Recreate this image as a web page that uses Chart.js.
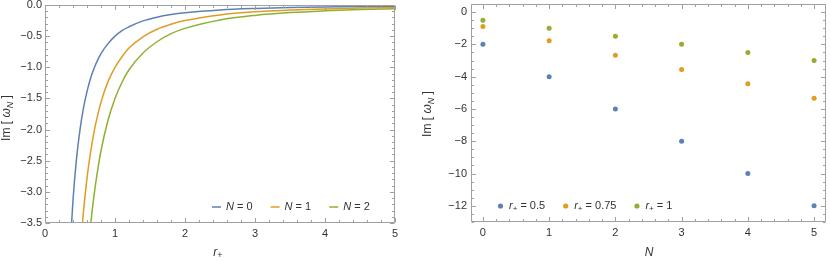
<!DOCTYPE html>
<html>
<head>
<meta charset="utf-8">
<script src="https://cdn.jsdelivr.net/npm/chart.js@4/dist/chart.umd.min.js"></script>
<style>
body { margin: 0; background: #fff; }
canvas { position: absolute; top: 0; }
</style>
</head>
<body>
<canvas id="left-chart" width="415" height="261" style="left:0"></canvas>
<canvas id="right-chart" width="415" height="261" style="left:415px"></canvas>
<script>
// left panel: Im[w_N] against r+
const rValues = [0.35, 0.4, 0.45, 0.5, 0.55, 0.6, 0.65, 0.7, 0.75, 0.8, 0.9, 1.0, 1.1, 1.2, 1.4, 1.6, 1.8, 2.0, 2.5, 3.0, 3.5, 4.0, 4.5, 5.0];
const imN0 = [-4.08, -3.13, -2.47, -2.0, -1.65, -1.39, -1.18, -1.02, -0.89, -0.78, -0.62, -0.5, -0.41, -0.35, -0.255, -0.195, -0.154, -0.125, -0.08, -0.056, -0.041, -0.031, -0.025, -0.02];
const imN1 = [-8.16, -6.25, -4.94, -4.0, -3.31, -2.78, -2.37, -2.04, -1.78, -1.56, -1.23, -1.0, -0.83, -0.69, -0.51, -0.39, -0.31, -0.25, -0.16, -0.11, -0.082, -0.063, -0.049, -0.04];
const imN2 = [-12.2, -9.4, -7.4, -6.0, -4.96, -4.17, -3.55, -3.06, -2.67, -2.34, -1.85, -1.5, -1.24, -1.04, -0.77, -0.59, -0.46, -0.375, -0.24, -0.167, -0.122, -0.094, -0.074, -0.06];
const curveNs = [0, 1, 2];
const leftXTicks = [0, 1, 2, 3, 4, 5];
const leftYTicks = [0, -0.5, -1, -1.5, -2, -2.5, -3, -3.5];

// right panel: Im[w_N] against N for three r+
const nValues = [0, 1, 2, 3, 4, 5];
const imR05 = [-2, -4, -6, -8, -10, -12];
const imR075 = [-0.89, -1.78, -2.67, -3.56, -4.44, -5.33];
const imR1 = [-0.5, -1, -1.5, -2, -2.5, -3];
const pointRs = ['0.5', '0.75', '1'];
const rightXTicks = [0, 1, 2, 3, 4, 5];
const rightYTicks = [0, -2, -4, -6, -8, -10, -12];

const FONT = '"Liberation Sans", Arial, sans-serif';

function getColor(i) {
    if (i === 0) return '#5E81B5';
    if (i === 1) return '#E19C24';
    if (i === 2) return '#8FB032';
}

function minus(v, digits) {
    let s = digits ? Math.abs(v).toFixed(digits) : String(Math.abs(v));
    return v < 0 ? '\u2212' + s : s;
}

// text with italic / subscript pieces
function partFont(p, size) {
    return (p.it ? 'italic ' : '') + (p.sub ? size - 3 : size) + 'px ' + FONT;
}
function richWidth(ctx, parts, size) {
    let w = 0;
    parts.forEach(p => { ctx.font = partFont(p, size); w += ctx.measureText(p.t).width; });
    return w;
}
function drawRich(ctx, parts, x, y, size) {
    ctx.textBaseline = 'middle';
    ctx.textAlign = 'left';
    parts.forEach(p => {
        ctx.font = partFont(p, size);
        ctx.fillText(p.t, x, y + (p.sub ? 3 : 0));
        x += ctx.measureText(p.t).width;
    });
    return x;
}

const yTitle = [{t: 'Im [ '}, {t: '\u03C9', it: true}, {t: 'N', it: true, sub: true}, {t: ' ]'}];

// frame with inward major / minor ticks, titles and the inset legend
const framePlugin = {
    id: 'frame',
    afterDatasetsDraw(chart, args, o) {
        const ctx = chart.ctx;
        const a = chart.chartArea;
        const xs = chart.scales.x, ys = chart.scales.y;
        ctx.save();
        ctx.strokeStyle = '#a0a0a0';
        ctx.lineWidth = 1;
        const L = Math.round(a.left) + 0.5, R = Math.round(a.right) - 0.5;
        const T = Math.round(a.top) + 0.5, B = Math.round(a.bottom) - 0.5;
        ctx.beginPath();
        ctx.rect(L, T, R - L, B - T);
        ctx.stroke();

        function ticksFor(scale, major, step) {
            const out = [];
            const start = Math.ceil(scale.min / step - 1e-9);
            const end = Math.floor(scale.max / step + 1e-9);
            for (let k = start; k <= end; k++) {
                const v = k * step;
                const isMajor = major.some(m => Math.abs(m - v) < 1e-9);
                out.push({v: v, len: isMajor ? 4.5 : 2.5});
            }
            return out;
        }
        ctx.beginPath();
        ticksFor(xs, o.xMajor, o.xMinor).forEach(t => {
            const px = Math.round(xs.getPixelForValue(t.v)) + 0.5;
            ctx.moveTo(px, B); ctx.lineTo(px, B - t.len);
            ctx.moveTo(px, T); ctx.lineTo(px, T + t.len);
        });
        ticksFor(ys, o.yMajor, o.yMinor).forEach(t => {
            const py = Math.round(ys.getPixelForValue(t.v)) + 0.5;
            ctx.moveTo(L, py); ctx.lineTo(L + t.len, py);
            ctx.moveTo(R, py); ctx.lineTo(R - t.len, py);
        });
        ctx.stroke();

        ctx.fillStyle = '#333';
        // y title, rotated
        ctx.save();
        ctx.translate(o.yTitleX, o.yTitleY);
        ctx.rotate(-Math.PI / 2);
        drawRich(ctx, yTitle, -richWidth(ctx, yTitle, 12) / 2, 0, 12);
        ctx.restore();
        // x title
        drawRich(ctx, o.xTitle, o.xTitleX - richWidth(ctx, o.xTitle, 12) / 2, o.xTitleY, 12);

        // legend
        let x = o.legendX;
        o.legend.forEach((item, i) => {
            ctx.fillStyle = getColor(i);
            ctx.strokeStyle = getColor(i);
            if (o.legendMarker === 'line') {
                ctx.lineWidth = 1.5;
                ctx.beginPath();
                ctx.moveTo(x, o.legendY); ctx.lineTo(x + 9, o.legendY);
                ctx.stroke();
                x += 14;
            } else {
                ctx.beginPath();
                ctx.arc(x + 2.5, o.legendY, 2.6, 0, Math.PI * 2);
                ctx.fill();
                x += 11;
            }
            ctx.fillStyle = '#333';
            x = drawRich(ctx, item, x, o.legendY, 11) + 18;
        });
        ctx.restore();
    }
};

function fixedAxis(size, isX) {
    return function (scale) {
        if (isX) scale.height = size; else scale.width = size;
        scale.paddingTop = 0; scale.paddingBottom = 0;
        scale.paddingLeft = 0; scale.paddingRight = 0;
    };
}

const tickFont = {family: FONT, size: 11};

// LEFT PANEL (LINES)
new Chart(document.querySelector('#left-chart').getContext('2d'), {
    type: 'line',
    data: {
        datasets: [imN0, imN1, imN2].map((vals, i) => ({
            label: 'N = ' + curveNs[i],
            data: rValues.map((r, k) => ({x: r, y: vals[k]})),
            borderColor: getColor(i),
            borderWidth: 1.5,
            pointRadius: 0,
            cubicInterpolationMode: 'monotone',
            clip: 0
        }))
    },
    options: {
        responsive: false,
        animation: false,
        layout: {padding: {left: 0, top: 5, right: 20, bottom: 0}},
        plugins: {
            legend: {display: false},
            tooltip: {enabled: false},
            frame: {
                xMajor: leftXTicks, xMinor: 0.2, yMajor: leftYTicks, yMinor: 0.1,
                yTitleX: 7, yTitleY: 118,
                xTitle: [{t: 'r', it: true}, {t: '+', sub: true}], xTitleX: 218, xTitleY: 253,
                legend: curveNs.map(n => [{t: 'N', it: true}, {t: ' = ' + n}]),
                legendMarker: 'line', legendX: 212, legendY: 207
            }
        },
        scales: {
            x: {
                type: 'linear', min: 0, max: 5,
                afterFit: fixedAxis(38, true),
                afterBuildTicks: s => { s.ticks = leftXTicks.map(v => ({value: v})); },
                grid: {display: false, drawTicks: false}, border: {display: false},
                ticks: {font: tickFont, color: '#333', padding: 4, maxRotation: 0, callback: v => minus(v, 0)}
            },
            y: {
                min: -3.5, max: 0,
                afterFit: fixedAxis(45, false),
                afterBuildTicks: s => { s.ticks = leftYTicks.map(v => ({value: v})); },
                grid: {display: false, drawTicks: false}, border: {display: false},
                ticks: {font: tickFont, color: '#333', padding: 3, callback: v => minus(v, 1)}
            }
        }
    },
    plugins: [framePlugin]
});

// RIGHT PANEL (POINTS)
new Chart(document.querySelector('#right-chart').getContext('2d'), {
    type: 'scatter',
    data: {
        datasets: [imR05, imR075, imR1].map((vals, i) => ({
            label: 'r+ = ' + pointRs[i],
            data: nValues.map((n, k) => ({x: n, y: vals[k]})),
            backgroundColor: getColor(i),
            borderWidth: 0,
            pointRadius: 2.5
        }))
    },
    options: {
        responsive: false,
        animation: false,
        layout: {padding: {left: 0, top: 1, right: 3, bottom: 0}},
        plugins: {
            legend: {display: false},
            tooltip: {enabled: false},
            frame: {
                xMajor: rightXTicks, xMinor: 0.2, yMajor: rightYTicks, yMinor: 0.5,
                yTitleX: 13, yTitleY: 114,
                xTitle: [{t: 'N', it: true}], xTitleX: 234, xTitleY: 253,
                legend: pointRs.map(r => [{t: 'r', it: true}, {t: '+', sub: true}, {t: ' = ' + r}]),
                legendMarker: 'dot', legendX: 83, legendY: 206
            }
        },
        scales: {
            x: {
                type: 'linear', min: -0.18, max: 5.18,
                afterFit: fixedAxis(39, true),
                afterBuildTicks: s => { s.ticks = rightXTicks.map(v => ({value: v})); },
                grid: {display: false, drawTicks: false}, border: {display: false},
                ticks: {font: tickFont, color: '#333', padding: 4, maxRotation: 0, callback: v => minus(v, 0)}
            },
            y: {
                min: -13, max: 0.5,
                afterFit: fixedAxis(56, false),
                afterBuildTicks: s => { s.ticks = rightYTicks.map(v => ({value: v})); },
                grid: {display: false, drawTicks: false}, border: {display: false},
                ticks: {font: tickFont, color: '#333', padding: 4, callback: v => minus(v, 0)}
            }
        }
    },
    plugins: [framePlugin]
});
</script>
</body>
</html>
